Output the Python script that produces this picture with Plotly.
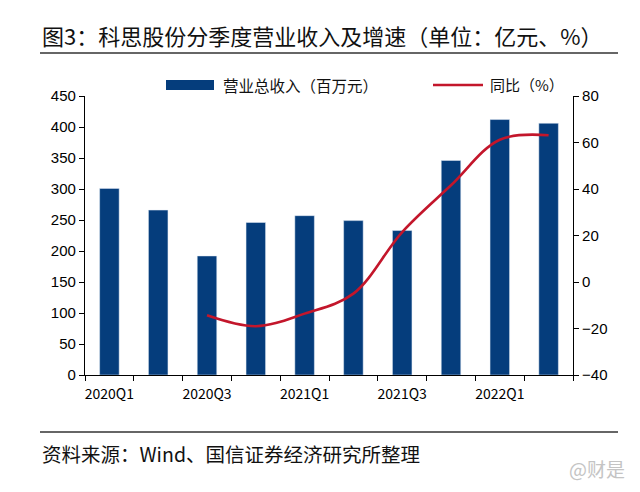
import plotly.graph_objects as go

categories = ["2020Q1", "2020Q2", "2020Q3", "2020Q4", "2021Q1", "2021Q2",
              "2021Q3", "2021Q4", "2022Q1", "2022Q2"]
revenue = [301, 266, 192, 246, 257, 249, 233, 346, 412, 406]
yoy = [None, None, -14.3, -19.0, -13.6, -5.0, 21.5, 41.6, 61.2, 63.1]
tick_labels = [c if i % 2 == 0 else "" for i, c in enumerate(categories)]

bar_name = "营业总收入（百万元）"
line_name = "同比（%）"
title_text = "图3：科思股份分季度营业收入及增速（单位：亿元、%）"
source_text = "资料来源：Wind、国信证券经济研究所整理"

# page body has an 8px default margin; work in window pixels and offset
OFF = 8
W, H = 640 - OFF, 492 - OFF
L, R, T, B = 85 - OFF, 573 - OFF, 96 - OFF, 375 - OFF

def px(x):
    return (x - OFF - L) / (R - L)

def py(y):
    return (B - (y - OFF)) / (B - T)

BAR_COLOR = "#053d7c"
LINE_COLOR = "#c3162b"
CJK = "Noto Sans CJK SC"

fig = go.Figure()
fig.add_trace(go.Bar(x=categories, y=revenue, name=bar_name, marker_color=BAR_COLOR,
                     width=0.4, showlegend=False))
fig.add_trace(go.Scatter(x=categories, y=yoy, name=line_name, mode="lines",
                         line=dict(color=LINE_COLOR, width=2.6, shape="spline", smoothing=1.0),
                         yaxis="y2", showlegend=False, connectgaps=False))

fig.update_layout(
    width=W, height=H,
    margin=dict(l=L, r=W - R, t=T, b=H - B, pad=0, autoexpand=False),
    paper_bgcolor="white", plot_bgcolor="white",
    xaxis=dict(type="category", tickvals=categories, ticktext=tick_labels,
               tickson="boundaries", ticks="outside", ticklen=5, tickcolor="black",
               tickangle=0, automargin=False, ticklabelstandoff=6,
               showline=True, linecolor="black", linewidth=1.2,
               tickfont=dict(family=CJK, size=14, color="black"),
               showgrid=False, range=[-0.5, 9.5]),
    yaxis=dict(range=[0, 450], dtick=50, ticks="outside", ticklen=5, tickcolor="black",
               showline=True, linecolor="black", linewidth=1.2, showgrid=False,
               zeroline=False, automargin=False,
               tickfont=dict(family="Liberation Sans", size=15, color="black")),
    yaxis2=dict(range=[-40, 80], dtick=20, overlaying="y", side="right",
                ticks="outside", ticklen=5, tickcolor="black",
                showline=True, linecolor="black", linewidth=1.2, showgrid=False,
                zeroline=False, automargin=False,
                tickfont=dict(family="Liberation Sans", size=15, color="black")),
    showlegend=False,
)

shapes = [
    dict(type="line", xref="paper", yref="paper", x0=px(40), x1=px(618), y0=py(53), y1=py(53),
         line=dict(color="#333333", width=1.6)),
    dict(type="line", xref="paper", yref="paper", x0=px(40), x1=px(618), y0=py(432), y1=py(432),
         line=dict(color="#333333", width=1.6)),
    # legend swatches
    dict(type="rect", xref="paper", yref="paper", x0=px(166), x1=px(214), y0=py(90), y1=py(80),
         fillcolor=BAR_COLOR, line=dict(width=0)),
    dict(type="line", xref="paper", yref="paper", x0=px(433), x1=px(483), y0=py(85), y1=py(85),
         line=dict(color=LINE_COLOR, width=2.6)),
]
annotations = [
    dict(text=title_text, xref="paper", yref="paper", x=px(40), y=py(35),
         xanchor="left", yanchor="middle", showarrow=False,
         font=dict(family=CJK, size=22, color="#111111")),
    dict(text=bar_name, xref="paper", yref="paper", x=px(221), y=py(85),
         xanchor="left", yanchor="middle", showarrow=False,
         font=dict(family=CJK, size=15.5, color="#111111")),
    dict(text=line_name, xref="paper", yref="paper", x=px(488), y=py(85),
         xanchor="left", yanchor="middle", showarrow=False,
         font=dict(family=CJK, size=15, color="#111111")),
    dict(text=source_text, xref="paper", yref="paper", x=px(40), y=py(453),
         xanchor="left", yanchor="middle", showarrow=False,
         font=dict(family=CJK, size=19.5, color="#111111")),
    dict(text="@财是", xref="paper", yref="paper", x=px(627), y=py(468),
         xanchor="right", yanchor="middle", showarrow=False,
         font=dict(family=CJK, size=19, color="#c4c4c4")),
]
fig.update_layout(shapes=shapes, annotations=annotations)

fig.write_html("out.html")
